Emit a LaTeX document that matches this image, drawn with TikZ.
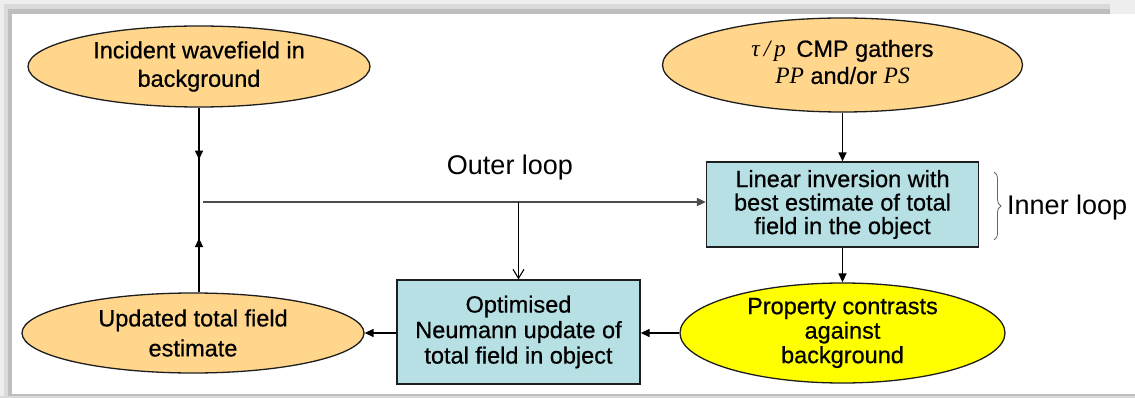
\documentclass[tikz,border=0pt]{standalone}
\usepackage{fontspec}
\setmainfont{Liberation Sans}[BoldFont=Liberation Sans, BoldFeatures={FakeBold=0.6}]
\newfontfamily\tms{Liberation Serif}
\usetikzlibrary{shapes.geometric,arrows.meta,decorations.markings,decorations.pathreplacing}
\definecolor{orangefill}{RGB}{255,214,140}
\definecolor{cyanfill}{RGB}{183,224,228}
\definecolor{yellowfill}{RGB}{255,255,0}
\definecolor{edge}{RGB}{30,30,30}
\definecolor{band1}{RGB}{238,238,238}
\definecolor{band2}{RGB}{218,218,218}
\definecolor{band3}{RGB}{190,190,190}
\begin{document}
\begin{tikzpicture}[x=1pt,y=-1pt,
 oval/.style={ellipse, draw=edge, line width=1.3pt, inner sep=0pt},
 boxnode/.style={rectangle, draw=edge, line width=1.3pt, inner sep=0pt},
 lbl/.style={align=center, inner sep=0pt, font=\fontsize{23.5}{#1}\selectfont\bfseries},
 conn/.style={line width=1.4pt, draw=black},
 tip/.style={-{Triangle[length=9pt,width=8pt]}},
 midarrow/.style={postaction={decorate}, decoration={markings, mark=at position #1 with {\arrow{Triangle[length=9pt,width=8pt]}}}},
]
% frame
\useasboundingbox (0,0) rectangle (1135,398);
\fill[band1] (0,0) rectangle (1135,398);
\fill[band2] (4,4) rectangle (1135,398);
\fill[band3] (8,9) rectangle (1135,396);
\fill[white] (12,14) rectangle (1135,394);
\fill[band1] (1110,0) rectangle (1135,14);
\fill[band2] (0,396) rectangle (1135,398);

% nodes
\node[oval, fill=orangefill, minimum width=342, minimum height=81] (A) at (199,66.5) {};
\node[lbl=28.5] (At) at (A.center) {Incident wavefield in\\background};

\node[oval, fill=orangefill, minimum width=360, minimum height=94] (B) at (842.5,65) {};
\node[lbl=27] (Bt) at ([yshift=3]B.center) {{\tms\mdseries\itshape τ\,/\,p}\, CMP gathers\\{\tms\mdseries\itshape PP} and/or {\tms\mdseries\itshape PS}};

\node[boxnode, fill=cyanfill, minimum width=272, minimum height=85] (C) at (842.5,204.5) {};
\node[lbl=23.5] (Ct) at (C.center) {Linear inversion with\\best estimate of total\\field in the object};

\node[oval, fill=yellowfill, minimum width=325, minimum height=100] (D) at (842.5,333) {};
\node[lbl=24.5] (Dt) at (D.center) {Property contrasts\\against\\background};

\node[boxnode, fill=cyanfill, minimum width=243, minimum height=104] (E) at (518.5,332) {};
\node[lbl=25.5] (Et) at (E.center) {Optimised\\Neumann update of\\total field in object};

\node[oval, fill=orangefill, minimum width=342, minimum height=80] (F) at (193,333) {};
\node[lbl=30] (Ft) at (F.center) {Updated total field\\estimate};

% labels
\node[inner sep=0pt, font=\fontsize{27}{30}\selectfont] (outer) at (510,168) {Outer loop};
\node[inner sep=0pt, anchor=west, font=\fontsize{27}{30}\selectfont] (inner) at (1007,208) {Inner loop};

% junction coordinates
\coordinate (J1) at (199,202);
\coordinate (Hs) at (203,202);
\coordinate (J2) at (518.5,202);
\coordinate (brT) at (994,172);
\coordinate (brB) at (994,240);

% connectors
\draw[conn, tip] (B) -- (C);
\draw[conn, tip] (C) -- (D);
\draw[conn, tip] (D.west) -- (D.west -| E.east);
\draw[conn, tip] (E.west |- F.east) -- (F.east);
\draw[conn, midarrow=0.55] (A.south -| J1) -- (J1);
\draw[conn, midarrow=0.6] (J1 |- F.north) -- (J1);
\draw[line width=1.8pt, draw=black!70, tip] (Hs) -- (Hs -| C.west);
\draw[line width=1.1pt, -{Straight Barb[length=9pt,width=11pt]}] (J2) -- (E.north);
\draw[line width=0.8pt, draw=black!60, decorate, decoration={brace, amplitude=7pt}] (brT) -- (brB);
\end{tikzpicture}
\end{document}
